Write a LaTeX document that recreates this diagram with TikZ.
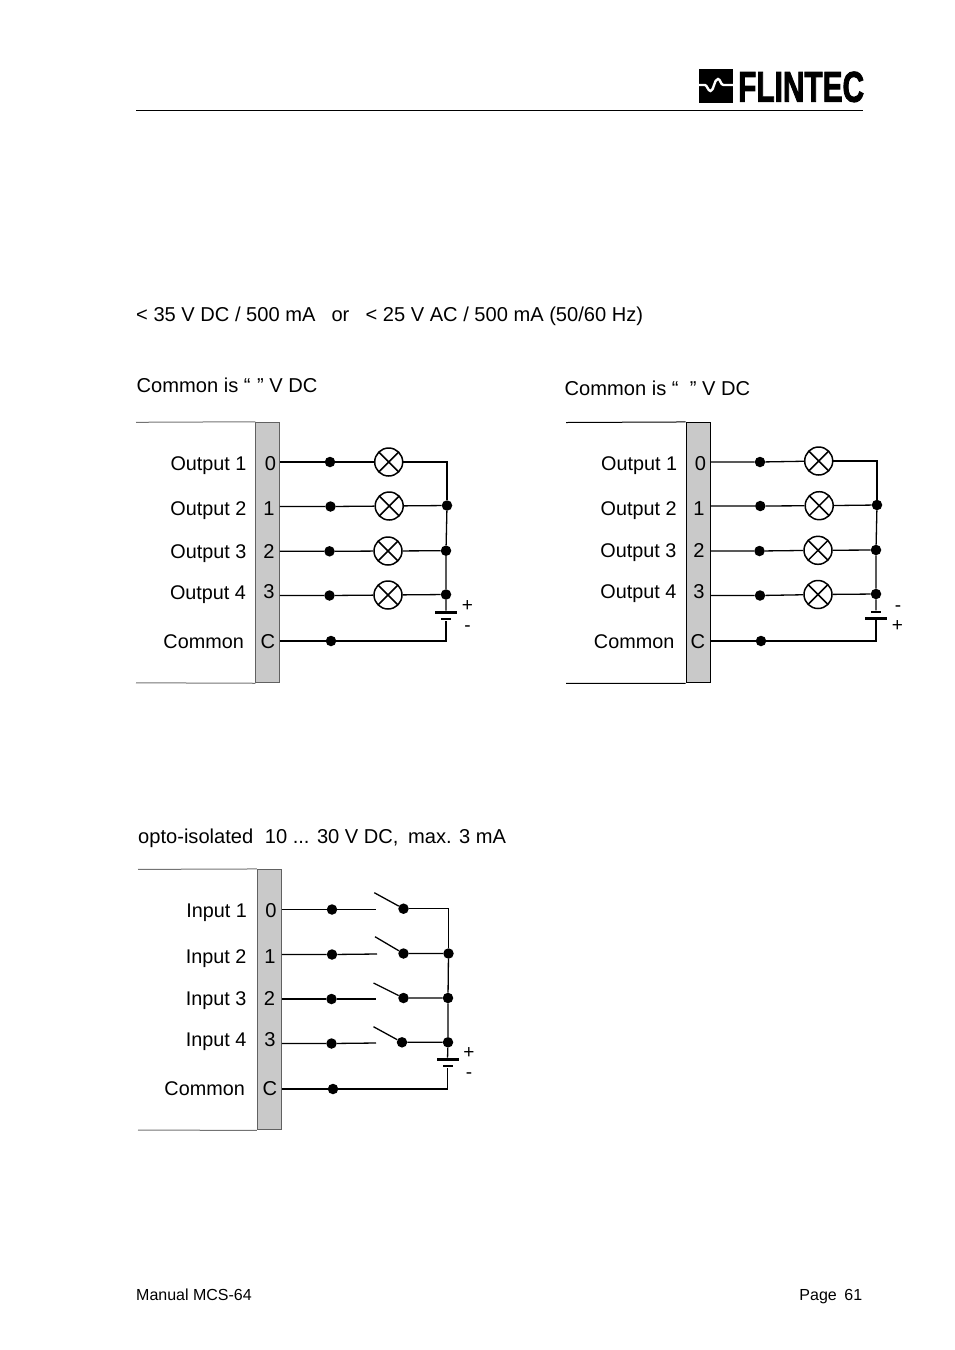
\documentclass[tikz,border=0pt]{standalone}
\usepackage{fontspec}
\setmainfont{Liberation Sans}
\newfontfamily\logofont[BoldFeatures={FakeBold=2.5}]{Liberation Sans}
\begin{document}
\begin{tikzpicture}[x=1pt,y=-1pt,
    txt/.style={inner sep=0pt,font=\fontsize{20.1}{24}\selectfont},
    lab/.style={inner sep=0pt,anchor=base east,font=\fontsize{19.8}{24}\selectfont},
    pinno/.style={txt,anchor=base},
    para/.style={txt,anchor=base west},
    small/.style={inner sep=0pt,font=\fontsize{16}{19}\selectfont},
    sign/.style={inner sep=0pt,anchor=base,font=\fontsize{19}{19}\selectfont},
    wire/.style={line width=1.3pt,black},
    strip/.style={draw,fill=black!21,line width=1pt,inner sep=0pt,minimum width=23.5pt,minimum height=260.5pt},
    termdot/.style={circle,fill=black,inner sep=0pt,minimum size=10.5pt},
    swdot/.style={circle,fill=black,inner sep=0pt,minimum size=10.5pt},
    lamp/.style={circle,draw,line width=1.5pt,inner sep=0pt,minimum size=28pt,path picture={
      \draw[line width=1.5pt] (path picture bounding box.north west)--(path picture bounding box.south east)
        (path picture bounding box.north east)--(path picture bounding box.south west);}},
    longplate/.style={fill=black,inner sep=0pt,minimum width=22pt,minimum height=2.8pt},
    shortplate/.style={fill=black,inner sep=0pt,minimum width=10pt,minimum height=2.8pt},
  ]
  \useasboundingbox (0,0) rectangle (954,1350);

  \fill (699,69) rectangle (733,103);
  \draw[white,line width=2.4pt] (699,85)--(705,85)
    .. controls (707,85) and (708,91) .. (710.5,91)
    .. controls (714,91) and (714,79) .. (718,79)
    .. controls (720.5,79) and (720.5,85) .. (723.5,85)--(733,85);
  \node[inner sep=0pt,anchor=base west,font=\logofont\bfseries\fontsize{38}{38}\selectfont,xscale=.785,yscale=1.13,transform shape] (logo) at (738,101.7) {FLINTEC};
  \coordinate(ruleL) at (136,110.5);
  \coordinate(ruleR) at (863,110.5);
  \draw[line width=.9pt] (ruleL)--(ruleR);

  \node[para] (rating) at (136,321) {< 35 V DC / 500 mA\hspace{.8em}or\hspace{.8em}< 25 V AC / 500 mA (50/60 Hz)};
  \node[para] (commonA) at (136.5,392) {Common is “\hspace{.05em} ” V DC};
  \node[para] (commonB) at (564.5,395) {Common is “\hspace{.28em} ” V DC};
  \node[para] (opto) at (138,843) {opto-isolated\hspace{.3em} 10 ... 30 V DC,\hspace{.2em} max. 3 mA};

  \node[strip,draw=black!62] (stripA) at (267.5,552.5) {};
  \coordinate(topA) at (136,422.3);
  \coordinate(botA) at (136,682.8);
  \draw[line width=1pt,black!55] (topA)--(stripA.north west) (botA)--(stripA.south west);
  \node[lab] (outA0) at (246.7,470) {Output 1};
  \node[lab] (outA1) at (246.5,515) {Output 2};
  \node[lab] (outA2) at (246.5,558) {Output 3};
  \node[lab] (outA3) at (246.2,599) {Output 4};
  \node[lab] (comA) at (244,648) {Common};
  \node[pinno] (noA0) at (270.5,470) {0};
  \node[pinno] (noA1) at (269,515) {1};
  \node[pinno] (noA2) at (269,558) {2};
  \node[pinno] (noA3) at (269,598) {3};
  \node[pinno] (noAC) at (268,648) {C};
  \node[termdot] (dotA0) at (330,462) {};
  \node[termdot] (dotA1) at (330.5,506.5) {};
  \node[termdot] (dotA2) at (329.5,551.3) {};
  \node[termdot] (dotA3) at (329.5,595.5) {};
  \node[termdot] (dotAC) at (331,641) {};
  \node[lamp] (lampA0) at (388.7,462) {};
  \node[lamp] (lampA1) at (389.2,506) {};
  \node[lamp] (lampA2) at (388,551) {};
  \node[lamp] (lampA3) at (388,595) {};
  \node[termdot] (busA1) at (447,505.5) {};
  \node[termdot] (busA2) at (446,550.7) {};
  \node[termdot] (busA3) at (446,594.5) {};
  \node[longplate] (plusA) at (446,612.3) {};
  \node[shortplate] (minusA) at (446,619) {};
  \node[sign] (signA1) at (467.3,611) {+};
  \node[sign] (signA2) at (467.5,631) {-};
  \draw[wire] (stripA.east |- dotA0)--(dotA0)--(lampA0);
  \draw[wire] (stripA.east |- dotA1)--(dotA1)--(lampA1)--(busA1);
  \draw[wire] (stripA.east |- dotA2)--(dotA2)--(lampA2)--(busA2);
  \draw[wire] (stripA.east |- dotA3)--(dotA3)--(lampA3)--(busA3);
  \draw[wire] (lampA0) -| (busA1);
  \draw[wire] (busA1)--(busA2)--(busA3)--(plusA);
  \draw[wire] (stripA.east |- dotAC)--(dotAC)--(dotAC -| minusA) -- (minusA);

  \node[strip,minimum width=24pt] (stripB) at (698,552.7) {};
  \coordinate(topB) at (566,422.5);
  \coordinate(botB) at (566,683.3);
  \draw[line width=1pt] (topB)--(stripB.north west) (botB)--(stripB.south west);
  \node[lab] (outB0) at (677.3,470) {Output 1};
  \node[lab] (outB1) at (676.8,515) {Output 2};
  \node[lab] (outB2) at (676.5,557.5) {Output 3};
  \node[lab] (outB3) at (676.5,598) {Output 4};
  \node[lab] (comB) at (674.5,648) {Common};
  \node[pinno] (noB0) at (700.5,470) {0};
  \node[pinno] (noB1) at (699,515) {1};
  \node[pinno] (noB2) at (699,557.5) {2};
  \node[pinno] (noB3) at (699,598) {3};
  \node[pinno] (noBC) at (698,648) {C};
  \node[termdot] (dotB0) at (760,462) {};
  \node[termdot] (dotB1) at (760.3,506) {};
  \node[termdot] (dotB2) at (759.5,551) {};
  \node[termdot] (dotB3) at (760,595.5) {};
  \node[termdot] (dotBC) at (761,641) {};
  \node[lamp] (lampB0) at (818.7,461) {};
  \node[lamp] (lampB1) at (819.2,505.7) {};
  \node[lamp] (lampB2) at (818,550.3) {};
  \node[lamp] (lampB3) at (818,594.5) {};
  \node[termdot] (busB1) at (877,505) {};
  \node[termdot] (busB2) at (876,550) {};
  \node[termdot] (busB3) at (876,594) {};
  \node[shortplate] (minusB) at (876,612) {};
  \node[longplate] (plusB) at (876,618.7) {};
  \node[sign] (signB1) at (898,611) {-};
  \node[sign] (signB2) at (897.5,631) {+};
  \draw[wire] (stripB.east |- dotB0)--(dotB0)--(lampB0);
  \draw[wire] (stripB.east |- dotB1)--(dotB1)--(lampB1)--(busB1);
  \draw[wire] (stripB.east |- dotB2)--(dotB2)--(lampB2)--(busB2);
  \draw[wire] (stripB.east |- dotB3)--(dotB3)--(lampB3)--(busB3);
  \draw[wire] (lampB0) -| (busB1);
  \draw[wire] (busB1)--(busB2)--(busB3)--(minusB);
  \draw[wire] (stripB.east |- dotBC)--(dotBC)--(dotBC -| plusB) -- (plusB);

  \node[strip,draw=black!62,minimum width=24pt] (stripC) at (269.3,999.7) {};
  \coordinate(topC) at (138,869.4);
  \coordinate(botC) at (138,1130);
  \draw[line width=1pt,black!55] (topC)--(stripC.north west) (botC)--(stripC.south west);
  \node[lab] (inC0) at (247,917) {Input 1};
  \node[lab] (inC1) at (246.7,963) {Input 2};
  \node[lab] (inC2) at (246.7,1005) {Input 3};
  \node[lab] (inC3) at (246.7,1046) {Input 4};
  \node[lab] (comC) at (245,1095) {Common};
  \node[pinno] (noC0) at (271,917) {0};
  \node[pinno] (noC1) at (270,963) {1};
  \node[pinno] (noC2) at (269.5,1005) {2};
  \node[pinno] (noC3) at (270,1046) {3};
  \node[pinno] (noCC) at (270,1095) {C};
  \node[termdot] (dotC0) at (332,909.5) {};
  \node[termdot] (dotC1) at (332,954.5) {};
  \node[termdot] (dotC2) at (331.5,999) {};
  \node[termdot] (dotC3) at (331.5,1043.5) {};
  \node[termdot] (dotCC) at (333,1089) {};
  \coordinate(openC0) at (376,909.5);
  \coordinate(openC1) at (377,954);
  \coordinate(openC2) at (375.5,999);
  \coordinate(openC3) at (376,1043);
  \coordinate(armC0) at (374.3,892.7);
  \coordinate(armC1) at (375,936.7);
  \coordinate(armC2) at (373.5,983);
  \coordinate(armC3) at (373.5,1026.7);
  \node[swdot] (swC0) at (403.5,908.7) {};
  \node[swdot] (swC1) at (403.5,953.5) {};
  \node[swdot] (swC2) at (403.5,998) {};
  \node[swdot] (swC3) at (402,1042.3) {};
  \node[termdot] (busC1) at (448.5,953.5) {};
  \node[termdot] (busC2) at (448,998) {};
  \node[termdot] (busC3) at (448,1042.3) {};
  \node[longplate] (plusC) at (447.5,1059.3) {};
  \node[shortplate] (minusC) at (447.5,1066) {};
  \node[sign] (signC1) at (469,1058) {+};
  \node[sign] (signC2) at (469,1078) {-};
  \draw[wire] (stripC.east |- dotC0)--(dotC0)--(openC0);
  \draw[wire] (stripC.east |- dotC1)--(dotC1)--(openC1);
  \draw[wire] (stripC.east |- dotC2)--(dotC2)--(openC2);
  \draw[wire] (stripC.east |- dotC3)--(dotC3)--(openC3);
  \draw[wire] (armC0)--(swC0);
  \draw[wire] (armC1)--(swC1)--(busC1);
  \draw[wire] (armC2)--(swC2)--(busC2);
  \draw[wire] (armC3)--(swC3)--(busC3);
  \draw[wire] (swC0) -| (busC1);
  \draw[wire] (busC1)--(busC2)--(busC3)--(plusC);
  \draw[wire] (stripC.east |- dotCC)--(dotCC)--(dotCC -| minusC) -- (minusC);

  \node[small,anchor=base west] (manual) at (136,1300) {Manual MCS-64};
  \node[small,anchor=base east] (page) at (862.5,1300) {Page\hspace{.2em} 61};
\end{tikzpicture}
\end{document}
